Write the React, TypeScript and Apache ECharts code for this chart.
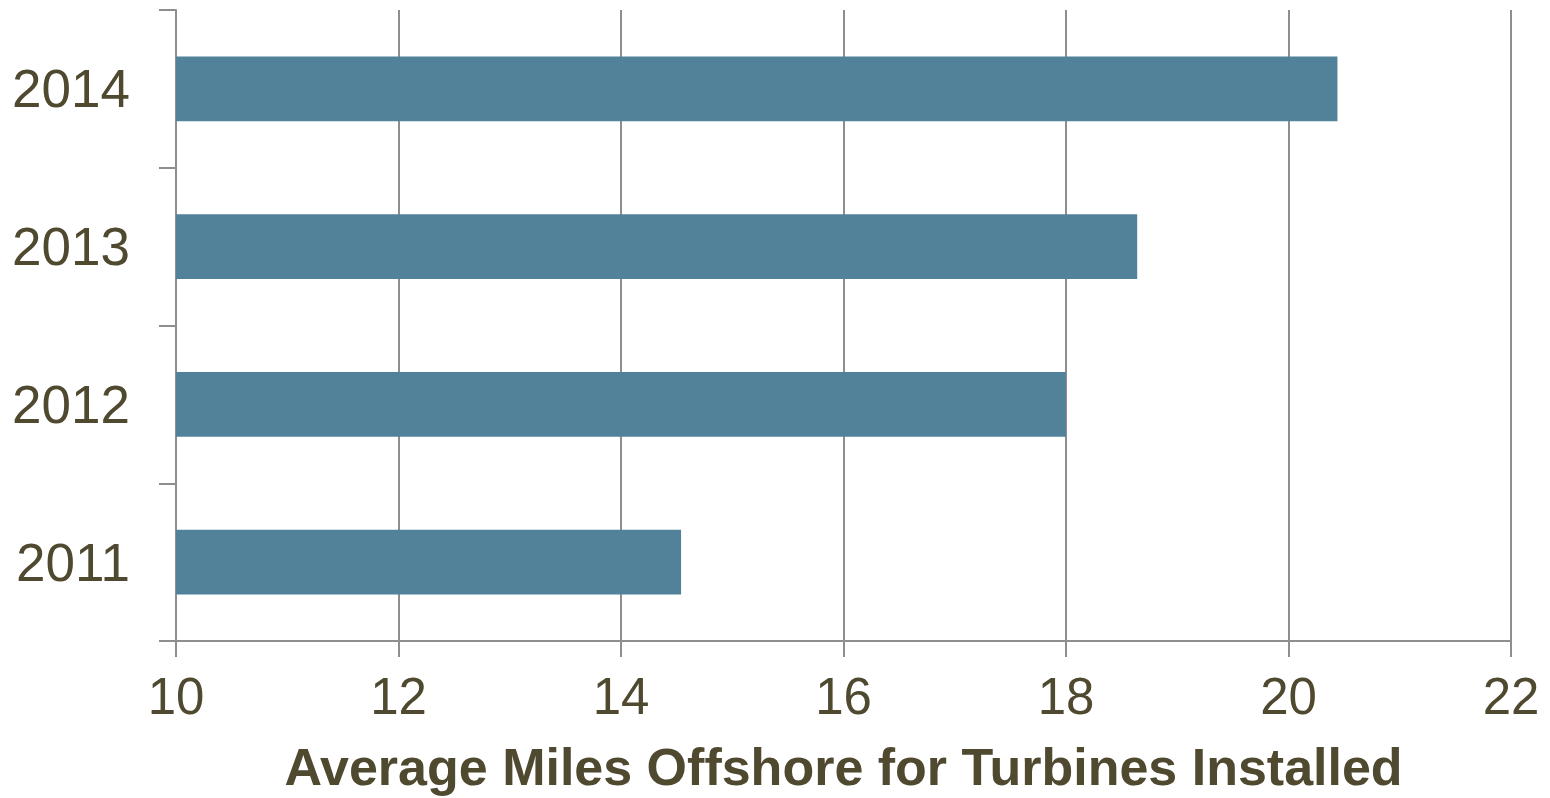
import React, { useEffect, useRef } from "react";
import * as echarts from "echarts";

const categories = ["2011", "2012", "2013", "2014"];
const values = [14.54, 18.0, 18.64, 20.44];
const xMin = 10;
const xMax = 22;
const xInterval = 2;
const axisTitle = "Average Miles Offshore for Turbines Installed";

const TEXT = "#4f4930";
const LINE = "#8e8e8e";

export default function App() {
  const ref = useRef<HTMLDivElement>(null);
  useEffect(() => {
    if (!ref.current) return;
    const chart = echarts.init(ref.current, null, { renderer: "svg" });
    chart.setOption({
      animation: false,
      backgroundColor: "#ffffff",
      grid: {
        left: 176,
        right: 39,
        top: 10,
        bottom: 157,
        containLabel: false,
        outerBoundsMode: "none",
      },
      xAxis: {
        type: "value",
        min: xMin,
        max: xMax,
        interval: xInterval,
        name: axisTitle,
        nameLocation: "middle",
        nameGap: 102,
        nameTextStyle: {
          color: TEXT,
          fontFamily: "Liberation Sans, Arial, sans-serif",
          fontWeight: "bold",
          fontSize: 52,
          lineHeight: 48,
        },
        axisLine: { show: true, lineStyle: { color: LINE, width: 2 } },
        axisTick: { show: true, length: 16, lineStyle: { color: LINE, width: 2 } },
        splitLine: { show: true, lineStyle: { color: LINE, width: 2 } },
        axisLabel: {
          color: TEXT,
          fontFamily: "Liberation Sans, Arial, sans-serif",
          fontSize: 51,
          margin: 30,
        },
      },
      yAxis: {
        type: "category",
        data: categories,
        boundaryGap: true,
        axisLine: { show: true, lineStyle: { color: LINE, width: 2 } },
        axisTick: { show: true, length: 17, lineStyle: { color: LINE, width: 2 } },
        splitLine: { show: false },
        axisLabel: {
          color: TEXT,
          fontFamily: "Liberation Sans, Arial, sans-serif",
          fontSize: 53,
          margin: 46,
        },
      },
      series: [
        {
          type: "bar",
          data: values,
          barWidth: "41%",
          itemStyle: { color: "#52829a" },
        },
      ],
    });
    return () => chart.dispose();
  }, []);
  return (
    <div
      ref={ref}
      style={{ position: "fixed", left: 0, top: 0, width: 1550, height: 798 }}
    />
  );
}
